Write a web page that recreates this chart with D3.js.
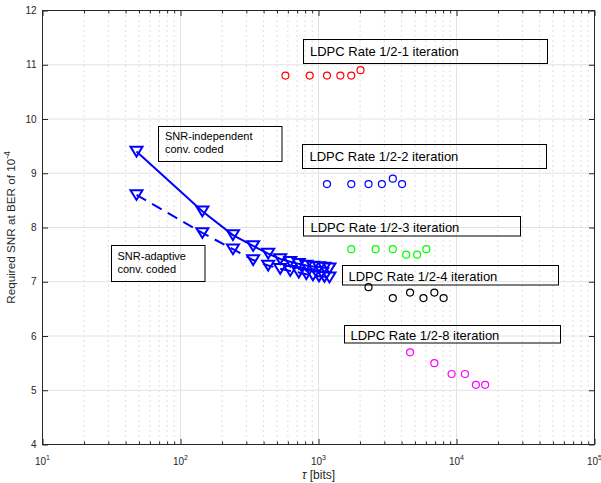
<!DOCTYPE html>
<html>
<head>
<meta charset="utf-8">
<script src="https://cdn.jsdelivr.net/npm/d3@7"></script>
<style>
    body { margin: 0; background: #fff; }
    svg { display: block; font-family: "Liberation Sans", Arial, Helvetica, sans-serif; }
</style>
</head>
<body>
<div id="container"></div>
<script>
// ---- data ----
const xMajor = [1e1, 1e2, 1e3, 1e4, 1e5];
const xMajorExp = ["1", "2", "3", "4", "5"];
const yTicks = [4, 5, 6, 7, 8, 9, 10, 11, 12];

// convolutional codes (blue triangles)
const convTau = [48, 144, 240, 336, 432, 528, 624, 720, 816, 912, 1008, 1104, 1200];
const snrIndependent = [9.4, 8.3, 7.86, 7.66, 7.52, 7.42, 7.37, 7.33, 7.3, 7.28, 7.27, 7.26, 7.25];
const snrAdaptive = [8.6, 7.9, 7.6, 7.4, 7.3, 7.24, 7.2, 7.17, 7.14, 7.12, 7.1, 7.09, 7.08];

// LDPC rate 1/2 points (circles)
const ldpcColors = ["#ff0000", "#0000ff", "#00ff00", "#000000", "#ff00ff"];
const ldpcTau = [
    [576, 864, 1152, 1440, 1728, 2016],
    [1152, 1728, 2304, 2880, 3456, 4032],
    [1728, 2592, 3456, 4320, 5184, 6048],
    [2304, 3456, 4608, 5760, 6912, 8064],
    [4608, 6912, 9216, 11520, 13824, 16128],
];
const ldpcSnr = [
    [10.8, 10.8, 10.8, 10.8, 10.8, 10.9],
    [8.8, 8.8, 8.8, 8.8, 8.9, 8.8],
    [7.6, 7.6, 7.6, 7.5, 7.5, 7.6],
    [6.9, 6.7, 6.8, 6.7, 6.8, 6.7],
    [5.7, 5.5, 5.3, 5.3, 5.1, 5.1],
];

// text boxes (pixel layout)
const notes = [
    { lines: ["LDPC Rate 1/2-1 iteration"], x: 303.5, y: 39.5, w: 244, h: 24, tx: 310, ty: 55.5, size: 13 },
    { lines: ["LDPC Rate 1/2-2 iteration"], x: 302.5, y: 144.5, w: 244, h: 24, tx: 309.5, ty: 160.5, size: 13 },
    { lines: ["LDPC Rate 1/2-3 iteration"], x: 303.5, y: 216.5, w: 217, h: 19.5, tx: 310.5, ty: 232, size: 13 },
    { lines: ["LDPC Rate 1/2-4 iteration"], x: 342.5, y: 265.5, w: 216, h: 19.5, tx: 348.5, ty: 280.5, size: 13 },
    { lines: ["LDPC Rate 1/2-8 iteration"], x: 344.5, y: 325.5, w: 216, h: 17.5, tx: 350.5, ty: 339.5, size: 13 },
    { lines: ["SNR-independent", "conv. coded"], x: 158.5, y: 126.5, w: 123.5, h: 35, tx: 165, ty: 140, size: 11 },
    { lines: ["SNR-adaptive", "conv. coded"], x: 111.5, y: 245.5, w: 93.5, h: 36, tx: 117.5, ty: 259.5, size: 11 },
];

// ---- layout ----
const width = 601;
const height = 483;
const plotLeft = 42.5, plotRight = 594.5, plotTop = 10.5, plotBottom = 444.5;
const AXIS_COLOR = "#262626";

const x = d3.scaleLog().domain([10, 1e5]).range([plotLeft, plotRight]);
const y = d3.scaleLinear().domain([4, 12]).range([plotBottom, plotTop]);

// minor ticks 2..9 in each decade
const xMinor = [];
for (let d = 1; d < 5; d++) {
    for (let m = 2; m <= 9; m++) xMinor.push(m * Math.pow(10, d));
}

const svg = d3.create("svg").attr("width", width).attr("height", height);
d3.select("#container").append(() => svg.node());

// grid
svg.append("g")
    .selectAll("line")
    .data(xMinor)
    .join("line")
    .attr("x1", (d) => x(d)).attr("x2", (d) => x(d))
    .attr("y1", plotTop).attr("y2", plotBottom)
    .attr("stroke", "#bdbdbd")
    .attr("stroke-dasharray", "1,4");
svg.append("g")
    .selectAll("line")
    .data(xMajor.slice(1, -1))
    .join("line")
    .attr("x1", (d) => x(d)).attr("x2", (d) => x(d))
    .attr("y1", plotTop).attr("y2", plotBottom)
    .attr("stroke", "#e2e2e2");
svg.append("g")
    .selectAll("line")
    .data(yTicks.slice(1, -1))
    .join("line")
    .attr("x1", plotLeft).attr("x2", plotRight)
    .attr("y1", (d) => y(d)).attr("y2", (d) => y(d))
    .attr("stroke", "#e2e2e2");

// ticks on all four sides, pointing inward
const tickAxis = (axis, tx, ty) => {
    const g = svg.append("g").attr("transform", `translate(${tx},${ty})`).call(axis);
    g.select(".domain").remove();
    g.selectAll("line").attr("stroke", AXIS_COLOR);
    g.selectAll("text").remove();
};
tickAxis(d3.axisBottom(x).tickValues(xMajor).tickSize(-5.5).tickFormat(""), 0, plotBottom);
tickAxis(d3.axisBottom(x).tickValues(xMinor).tickSize(-3).tickFormat(""), 0, plotBottom);
tickAxis(d3.axisTop(x).tickValues(xMajor).tickSize(-5.5).tickFormat(""), 0, plotTop);
tickAxis(d3.axisTop(x).tickValues(xMinor).tickSize(-3).tickFormat(""), 0, plotTop);
tickAxis(d3.axisLeft(y).tickValues(yTicks).tickSize(-5.5).tickFormat(""), plotLeft, 0);
tickAxis(d3.axisRight(y).tickValues(yTicks).tickSize(-5.5).tickFormat(""), plotRight, 0);

svg.append("rect")
    .attr("x", plotLeft).attr("y", plotTop)
    .attr("width", plotRight - plotLeft).attr("height", plotBottom - plotTop)
    .attr("fill", "none")
    .attr("stroke", AXIS_COLOR);

// tick labels
svg.append("g")
    .selectAll("text")
    .data(yTicks)
    .join("text")
    .attr("x", 36.5)
    .attr("y", (d) => y(d) + 3.5)
    .attr("text-anchor", "end")
    .attr("font-size", 10)
    .attr("fill", AXIS_COLOR)
    .text((d) => d);

const xl = svg.append("g")
    .selectAll("text")
    .data(xMajor)
    .join("text")
    .attr("x", (d) => x(d))
    .attr("y", 465)
    .attr("text-anchor", "middle")
    .attr("font-size", 10)
    .attr("fill", AXIS_COLOR);
xl.append("tspan").text("10");
xl.append("tspan")
    .attr("dy", -5)
    .attr("font-size", 7)
    .text((d, i) => xMajorExp[i]);

// axis titles
const yt = svg.append("text")
    .attr("transform", `translate(15,${(plotTop + plotBottom) / 2}) rotate(-90)`)
    .attr("text-anchor", "middle")
    .attr("font-size", 11.7)
    .attr("fill", AXIS_COLOR);
yt.append("tspan").text("Required SNR at BER of 10");
yt.append("tspan").attr("dy", -5).attr("font-size", 8.5).text("-4");

const xt = svg.append("text")
    .attr("x", (plotLeft + plotRight) / 2)
    .attr("y", 479)
    .attr("text-anchor", "middle")
    .attr("font-size", 12)
    .attr("fill", AXIS_COLOR);
xt.append("tspan").attr("font-style", "italic").text("τ");
xt.append("tspan").text(" [bits]");

// convolutional code series
const convSeries = [
    { values: snrIndependent, dash: null },
    { values: snrAdaptive, dash: "11,7" },
];
const line = d3.line().x((d) => x(d[0])).y((d) => y(d[1]));
const triangle = "M-6,-4.8L6,-4.8L0,5Z";

convSeries.forEach((s) => {
    const pts = convTau.map((t, i) => [t, s.values[i]]);
    svg.append("path")
        .datum(pts)
        .attr("d", line)
        .attr("fill", "none")
        .attr("stroke", "#0000ff")
        .attr("stroke-width", 2)
        .attr("stroke-dasharray", s.dash);
    svg.append("g")
        .selectAll("path")
        .data(pts)
        .join("path")
        .attr("transform", (d) => `translate(${x(d[0])},${y(d[1])})`)
        .attr("d", triangle)
        .attr("fill", "none")
        .attr("stroke", "#0000ff")
        .attr("stroke-width", 2)
        .attr("stroke-linejoin", "miter");
});

// LDPC circles
ldpcTau.forEach((taus, k) => {
    svg.append("g")
        .selectAll("circle")
        .data(taus.map((t, i) => [t, ldpcSnr[k][i]]))
        .join("circle")
        .attr("cx", (d) => x(d[0]))
        .attr("cy", (d) => y(d[1]))
        .attr("r", 3.5)
        .attr("fill", "none")
        .attr("stroke", ldpcColors[k])
        .attr("stroke-width", 1.2);
});

// text boxes
notes.forEach((n) => {
    const g = svg.append("g");
    g.append("rect")
        .attr("x", n.x).attr("y", n.y)
        .attr("width", n.w).attr("height", n.h)
        .attr("fill", "none")
        .attr("stroke", "#000")
        .attr("stroke-width", 1);
    g.selectAll("text")
        .data(n.lines)
        .join("text")
        .attr("x", n.tx)
        .attr("y", (d, i) => n.ty + i * 13.3)
        .attr("font-size", n.size)
        .attr("fill", "#000")
        .text((d) => d);
});
</script>
</body>
</html>
